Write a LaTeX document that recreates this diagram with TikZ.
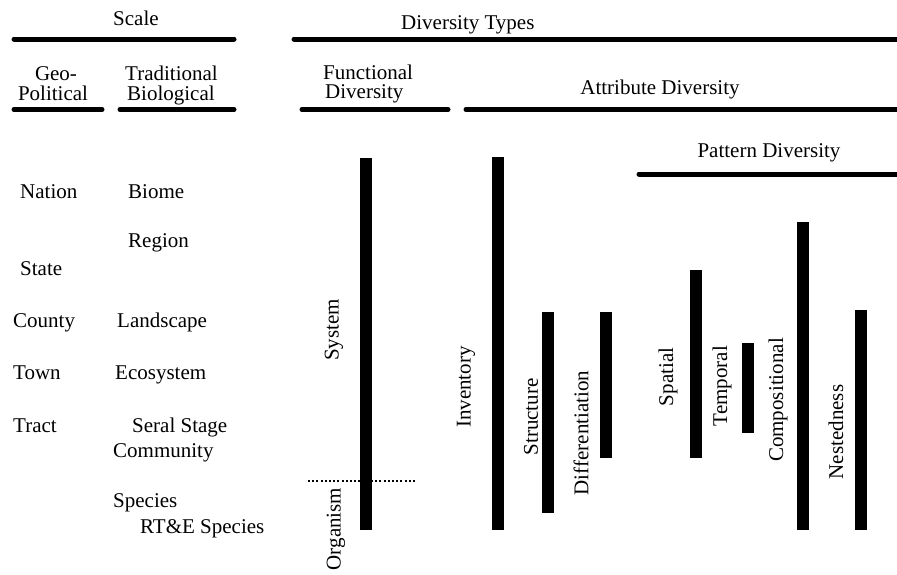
\documentclass[tikz,border=0pt]{standalone}
\usepackage{fontspec}
\setmainfont{Liberation Serif}
\begin{document}
\begin{tikzpicture}[x=1pt,y=-1pt,
  txt/.style={inner sep=0pt,font=\fontsize{21}{25}\selectfont},
  hbar/.style={line width=5pt,line cap=round},
  vbar/.style={line width=12pt,line cap=butt},
  vlab/.style={txt,rotate=90,anchor=center}]
\useasboundingbox[fill=white] (0,0) rectangle (897,574);
% header texts
\node[txt,anchor=base west] (scale) at (113,25) {Scale};
\node[txt,anchor=base west] (dtypes) at (401,29) {Diversity Types};
\node[txt,anchor=base] (geo) at (56,80) {Geo-};
\node[txt,anchor=base] (pol) at (53,100) {Political};
\node[txt,anchor=base west] (trad) at (125,80) {Traditional};
\node[txt,anchor=base west] (biol) at (127,100) {Biological};
\node[txt,anchor=base west] (func) at (323,79) {Functional};
\node[txt,anchor=base west] (fdiv) at (325,98) {Diversity};
\node[txt,anchor=base] (attr) at (660,94) {Attribute Diversity};
\node[txt,anchor=base] (patt) at (769,157) {Pattern Diversity};
% header bars
\coordinate (s1) at (14,39); \coordinate (s2) at (234,39);
\coordinate (d1) at (294,39); \coordinate (d2) at (900,39);
\coordinate (g1) at (14,109.5); \coordinate (g2) at (102,109.5);
\coordinate (t1) at (120,109.5); \coordinate (t2) at (234,109.5);
\coordinate (f1) at (302,109.5); \coordinate (f2) at (448,109.5);
\coordinate (a1) at (466,109.5); \coordinate (a2) at (900,109.5);
\coordinate (p1) at (639,174); \coordinate (p2) at (900,174);
\draw[hbar] (s1) -- (s2);
\draw[hbar] (d1) -- (d2);
\draw[hbar] (g1) -- (g2);
\draw[hbar] (t1) -- (t2);
\draw[hbar] (f1) -- (f2);
\draw[hbar] (a1) -- (a2);
\draw[hbar] (p1) -- (p2);
% scale column texts
\node[txt,anchor=base west] (nation) at (20,198) {Nation};
\node[txt,anchor=base west] (state) at (20,275) {State};
\node[txt,anchor=base west] (county) at (13,327) {County};
\node[txt,anchor=base west] (town) at (13,379) {Town};
\node[txt,anchor=base west] (tract) at (13,432) {Tract};
\node[txt,anchor=base west] (biome) at (128,198) {Biome};
\node[txt,anchor=base west] (region) at (128,247) {Region};
\node[txt,anchor=base west] (landscape) at (117,327) {Landscape};
\node[txt,anchor=base west] (ecosystem) at (115,379) {Ecosystem};
\node[txt,anchor=base west] (seral) at (132,432) {Seral Stage};
\node[txt,anchor=base west] (community) at (113,457) {Community};
\node[txt,anchor=base west] (species) at (113,507) {Species};
\node[txt,anchor=base west] (rte) at (140,533) {RT\&E Species};
% vertical bars
\coordinate (sy1) at (366,158); \coordinate (sy2) at (366,530);
\coordinate (in1) at (497.5,157); \coordinate (in2) at (497.5,530);
\coordinate (st1) at (547.5,312); \coordinate (st2) at (547.5,513);
\coordinate (df1) at (606,312); \coordinate (df2) at (606,458);
\coordinate (sp1) at (695.5,270); \coordinate (sp2) at (695.5,458);
\coordinate (te1) at (748,343); \coordinate (te2) at (748,433);
\coordinate (co1) at (803,222); \coordinate (co2) at (803,530);
\coordinate (ne1) at (861,310); \coordinate (ne2) at (861,530);
\draw[vbar] (sy1) -- (sy2);
\draw[vbar] (in1) -- (in2);
\draw[vbar] (st1) -- (st2);
\draw[vbar] (df1) -- (df2);
\draw[vbar] (sp1) -- (sp2);
\draw[vbar] (te1) -- (te2);
\draw[vbar] (co1) -- (co2);
\draw[vbar] (ne1) -- (ne2);
% dotted divider
\coordinate (dl1) at (308,481); \coordinate (dl2) at (415,481);
\draw[line width=1.6pt,dash pattern=on 2pt off 2.2pt] (dl1) -- (dl2);
% rotated labels
\node[vlab] (system) at (334,330) {System};
\node[vlab] (organism) at (336,529) {Organism};
\node[vlab] (inventory) at (466,387) {Inventory};
\node[vlab] (structure) at (531,417) {Structure};
\node[vlab] (diff) at (581,433) {Differentiation};
\node[vlab] (spatial) at (668,377) {Spatial};
\node[vlab] (temporal) at (722,386) {Temporal};
\node[vlab] (compos) at (778,400) {Compositional};
\node[vlab] (nested) at (836,432) {Nestedness};
\end{tikzpicture}
\end{document}
